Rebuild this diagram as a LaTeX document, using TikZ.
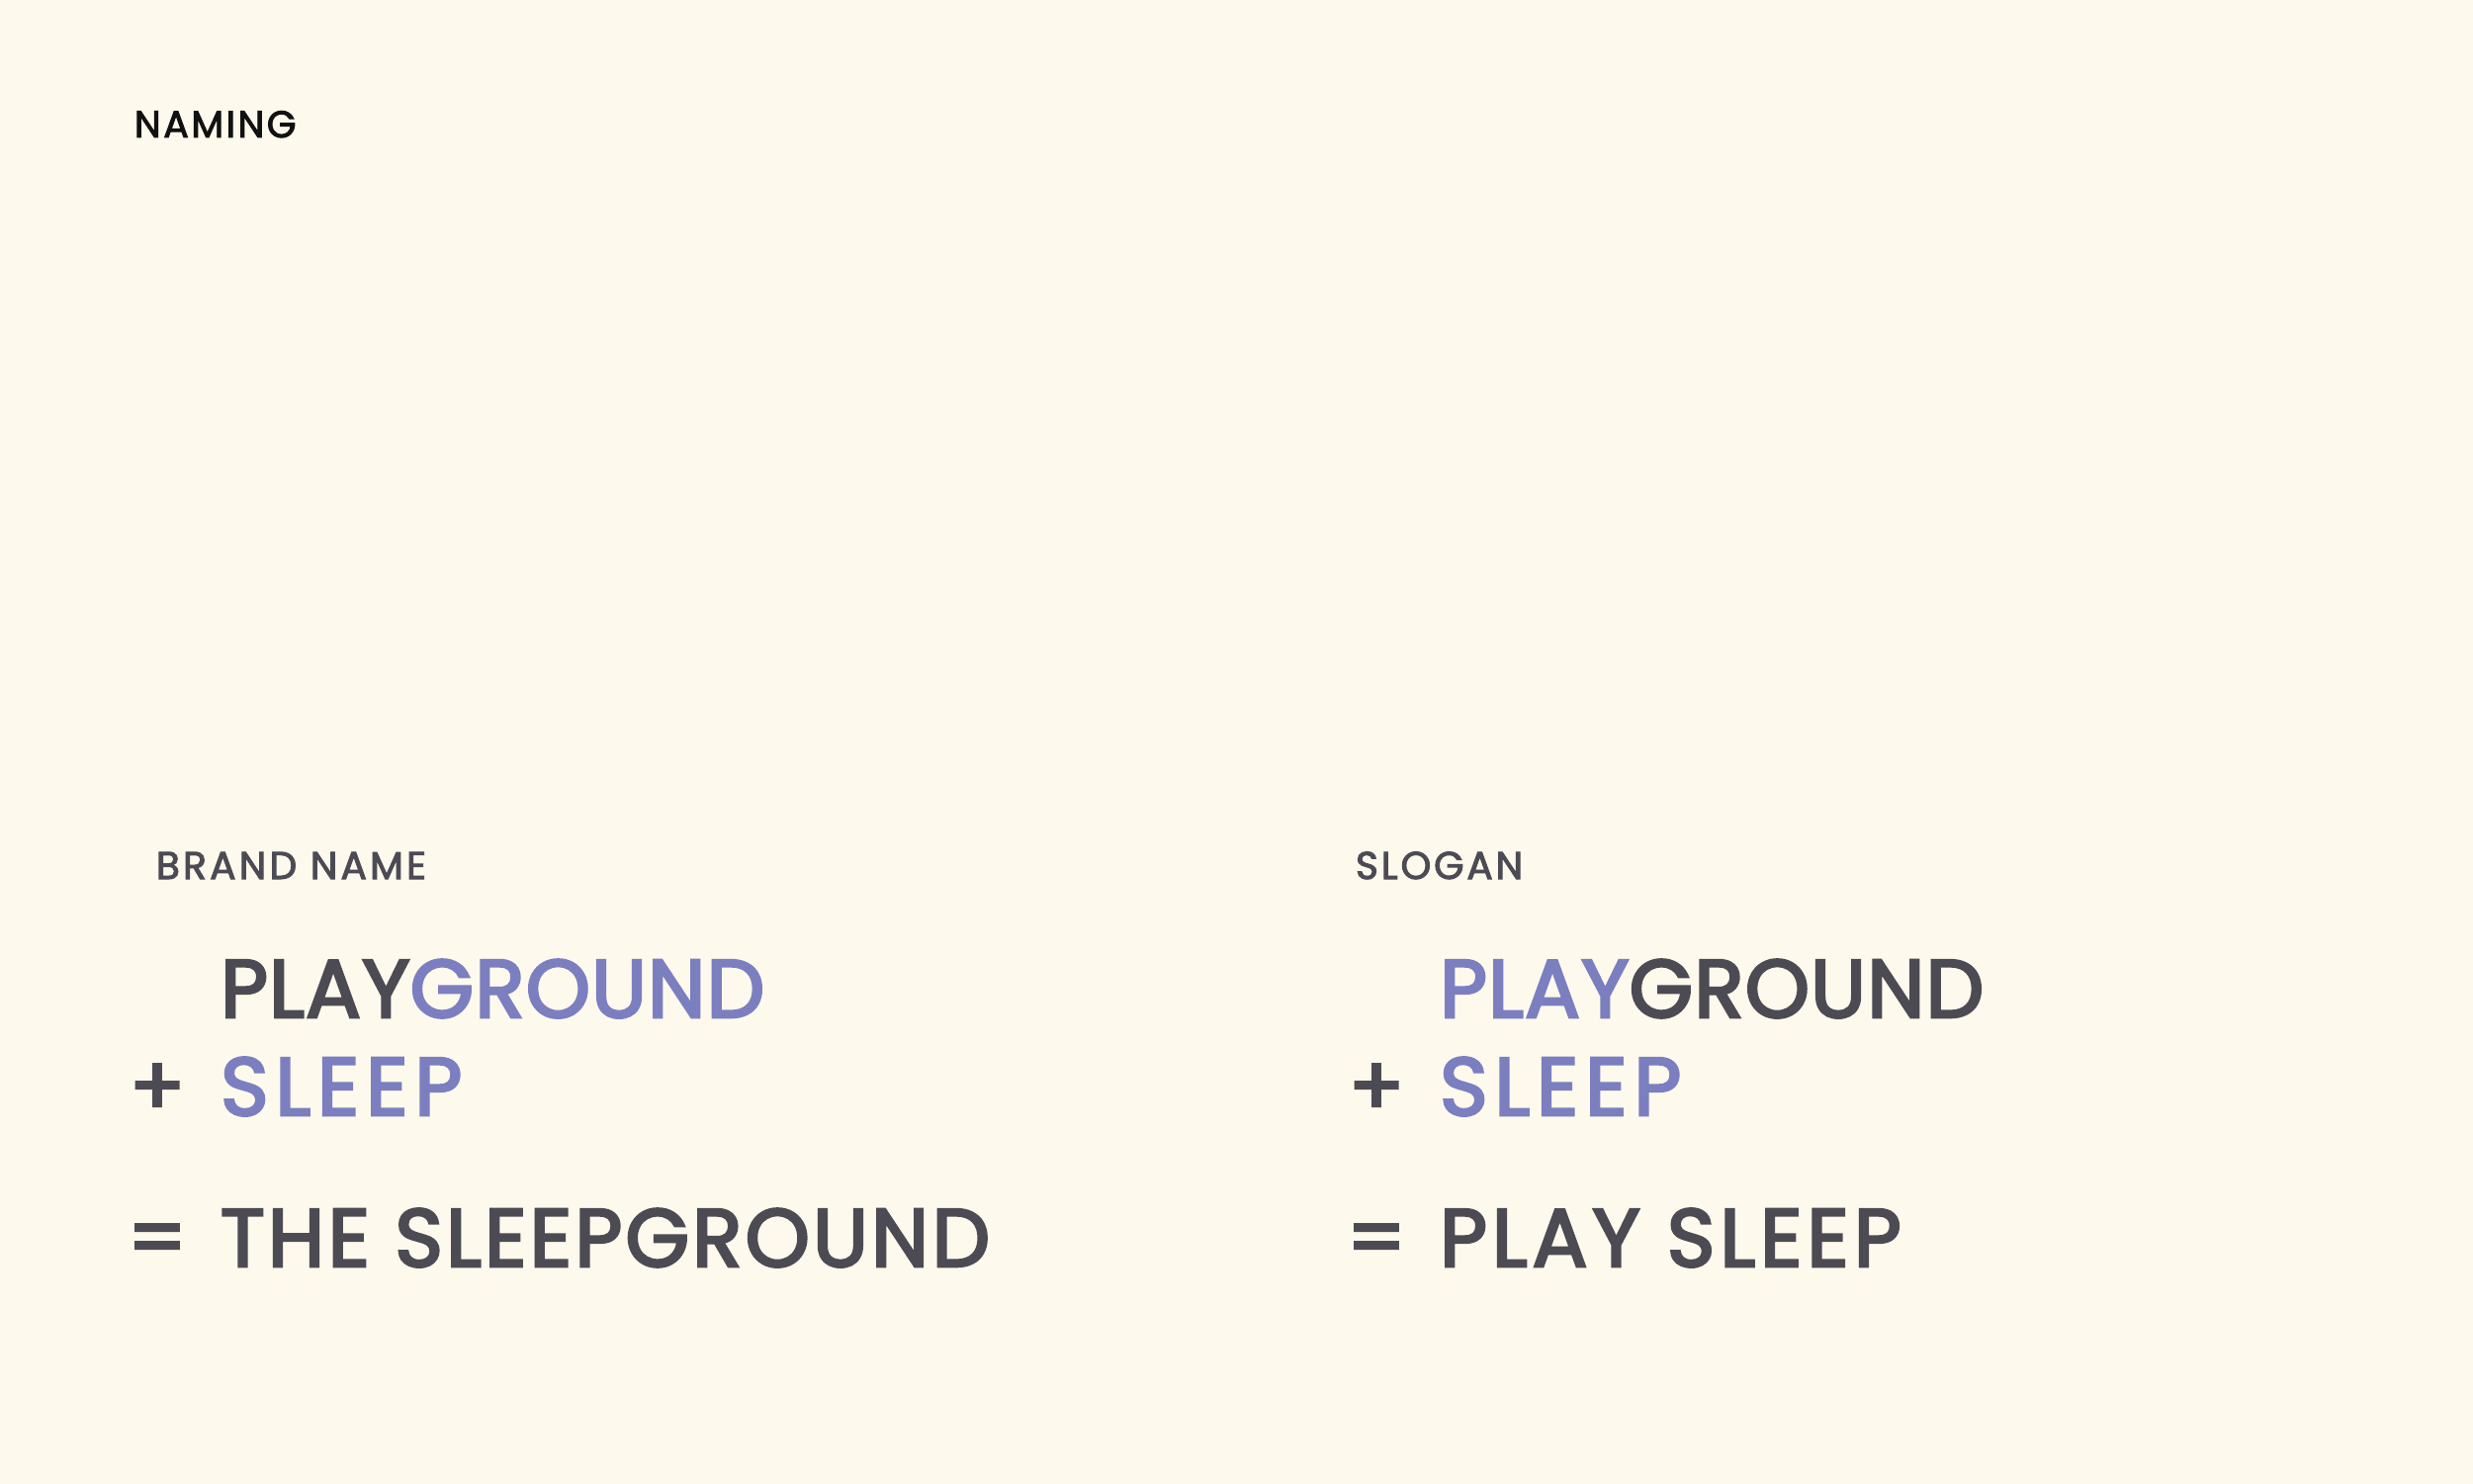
\documentclass[tikz,border=0pt]{standalone}
\usepackage{fontspec}
\setmainfont{Poppins}
\newfontfamily\bigfont[FakeBold=3.2]{Poppins}
\newfontfamily\smallfont[FakeBold=2.6]{Poppins}
\definecolor{bgc}{RGB}{253,249,236}
\definecolor{txtgray}{RGB}{76,75,84}
\definecolor{txtpurple}{RGB}{123,127,192}
\definecolor{txtblack}{RGB}{17,17,17}
\begin{document}
\begin{tikzpicture}[x=1pt,y=-1pt,
  every node/.style={inner sep=0pt,outer sep=0pt,anchor=base west},
  title/.style={font=\smallfont\fontsize{38}{40}\selectfont\addfontfeatures{LetterSpace=6.7}, text=txtblack},
  head/.style={font=\smallfont\fontsize{39}{40}\selectfont\addfontfeatures{LetterSpace=#1}, text=txtgray},
  big/.style={font=\bigfont\fontsize{83}{90}\selectfont\addfontfeatures{LetterSpace=#1}, text=txtgray},
  op/.style={font=\bigfont\fontsize{83}{90}\selectfont, text=txtgray, anchor=base}]
\fill[bgc] (0,0) rectangle (2501,1501);
\useasboundingbox (0,0) rectangle (2501,1501);
\node[title] (naming) at (136,139) {NAMING};
\node[head=8.5] (brand) at (158,889) {BRAND NAME};
\node[head=7.5] (slogan) at (1371,889) {SLOGAN};
\node[big=1.3] (l1) at (223,1029) {PLAY\textcolor{txtpurple}{GROUND}};
\node[op] (lplus) at (159,1128) {+};
\node[big=8.0,text=txtpurple] (l2) at (223,1128) {SLEEP};
\node[op] (leq) at (159,1281) {=};
\node[big=3.7] (l3) at (223,1281) {THE SLEEPGROUND};
\node[big=1.3,text=txtpurple] (r1) at (1456,1029) {PLAY\textcolor{txtgray}{GROUND}};
\node[op] (rplus) at (1392,1128) {+};
\node[big=8.0,text=txtpurple] (r2) at (1456,1128) {SLEEP};
\node[op] (req) at (1392,1281) {=};
\node[big=5.8] (r3) at (1456,1281) {PLAY SLEEP};
\end{tikzpicture}
\end{document}
